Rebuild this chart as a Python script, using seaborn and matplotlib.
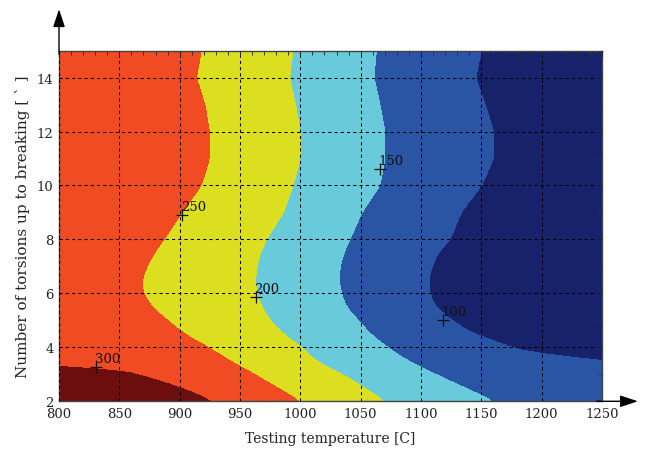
import numpy as np
import matplotlib
matplotlib.use("Agg")
import matplotlib.pyplot as plt
from matplotlib.ticker import MultipleLocator
import seaborn as sns

# rows of the map (number of torsions)
torsions = [2, 2.5, 3, 3.25, 3.5, 3.75, 4, 4.5, 5, 5.5, 6, 6.5, 7, 7.5, 8, 9, 10, 11, 12, 13, 14, 15]

# testing temperature where each contour level crosses a row
# (700 / 1300 mean the level does not show up on that row)
edge_300 = [928, 902, 866, 843, 700, 700, 700, 700, 700, 700, 700, 700, 700, 700, 700, 700, 700, 700, 700, 700, 700, 700]
edge_250 = [1000, 981, 962, 952, 942, 933, 924, 904, 890, 877, 870, 869, 873, 879, 887, 902, 918, 925, 925, 921, 914, 918]
edge_200 = [1070, 1053, 1035, 1023, 1013, 1007, 1001, 986, 975, 968, 964, 963, 964, 967, 972, 986, 994, 1000, 1000, 996, 991, 994]
edge_150 = [1161, 1136, 1112, 1100, 1089, 1080, 1072, 1058, 1048, 1038, 1034, 1032, 1033, 1036, 1041, 1051, 1066, 1070, 1070, 1066, 1061, 1063]
edge_100 = [1300, 1300, 1300, 1300, 1258, 1193, 1175, 1143, 1125, 1112, 1107, 1106, 1109, 1114, 1124, 1133, 1150, 1160, 1160, 1153, 1145, 1150]

levels = [0, 100, 150, 200, 250, 300, 400]
band_colors = ["#18226a", "#2a55a5", "#68cadb", "#dcdf20", "#f04b22", "#6c0d0e"]

# manual contour labels
label_temp = [831, 902, 963, 1066, 1118]
label_torsion = [3.26, 8.9, 5.85, 10.6, 5.02]
label_text = ["300", "250", "200", "150", "100"]

sns.set_theme(style="white")
plt.rcParams["font.family"] = ["DejaVu Serif"]

# build the grid that contourf needs from the crossings
temp = np.linspace(800, 1250, 451)
rows = np.linspace(2, 15, 261)
win = np.ones(9) / 9  # light smoothing of the polyline edges


def fine_edge(e):
    f = np.interp(rows, torsions, e)
    f = np.convolve(np.pad(f, 4, mode="edge"), win, mode="valid")
    return f


fine_edges = [fine_edge(e) for e in [edge_300, edge_250, edge_200, edge_150, edge_100]]
Z = []
for i in range(len(rows)):
    xs = [600] + [fe[i] for fe in fine_edges] + [1450]
    zs = [350, 300, 250, 200, 150, 100, 50]
    Z.append(np.interp(temp, xs, zs))
Z = np.array(Z)

fig = plt.figure(figsize=(6.55, 4.56), dpi=100)
ax = fig.add_axes([0.0901, 0.1178, 0.829, 0.769])

ax.contourf(temp, rows, Z, levels=levels, colors=band_colors, zorder=1)

ax.plot(label_temp, label_torsion, "+", color="#111111", markersize=9, mew=0.9, zorder=4)
for x, y, t in zip(label_temp, label_torsion, label_text):
    ax.annotate(t, (x, y), xytext=(-1, 1.5), textcoords="offset points",
                ha="left", va="bottom", fontsize=9.5, color="#111111", zorder=5)

ax.set_xlim(800, 1250)
ax.set_ylim(2, 15)
ax.set_xticks(range(800, 1251, 50))
ax.set_yticks(range(2, 15, 2))
ax.xaxis.set_minor_locator(MultipleLocator(10))
ax.yaxis.set_minor_locator(MultipleLocator(1))
ax.tick_params(which="both", direction="in", top=True, right=True, color="#333333", width=0.7)
ax.tick_params(which="major", length=4, labelsize=9.5, pad=4, colors="#222222")
ax.tick_params(which="minor", length=3)

ax.set_axisbelow(False)
ax.grid(True, which="major", color="black", linestyle=(0, (3, 3)), linewidth=0.75)

for s in ax.spines.values():
    s.set_color("#444444")
    s.set_linewidth(1.0)

ax.set_xlabel("Testing temperature [C]", fontsize=10, labelpad=8, color="#222222")
ax.set_ylabel("Number of torsions up to breaking [ ` ]", fontsize=11, labelpad=5, color="#222222")

# axis arrows
arrow = dict(arrowstyle="-|>,head_length=0.9,head_width=0.3", color="black", lw=1.0,
             shrinkA=0, shrinkB=0)
ax.annotate("", xy=(0, 1.118), xytext=(0, 0.99), xycoords="axes fraction",
            arrowprops=arrow, annotation_clip=False)
ax.annotate("", xy=(1.066, 0), xytext=(0.99, 0), xycoords="axes fraction",
            arrowprops=arrow, annotation_clip=False)

fig.savefig("out.png", dpi=100)
